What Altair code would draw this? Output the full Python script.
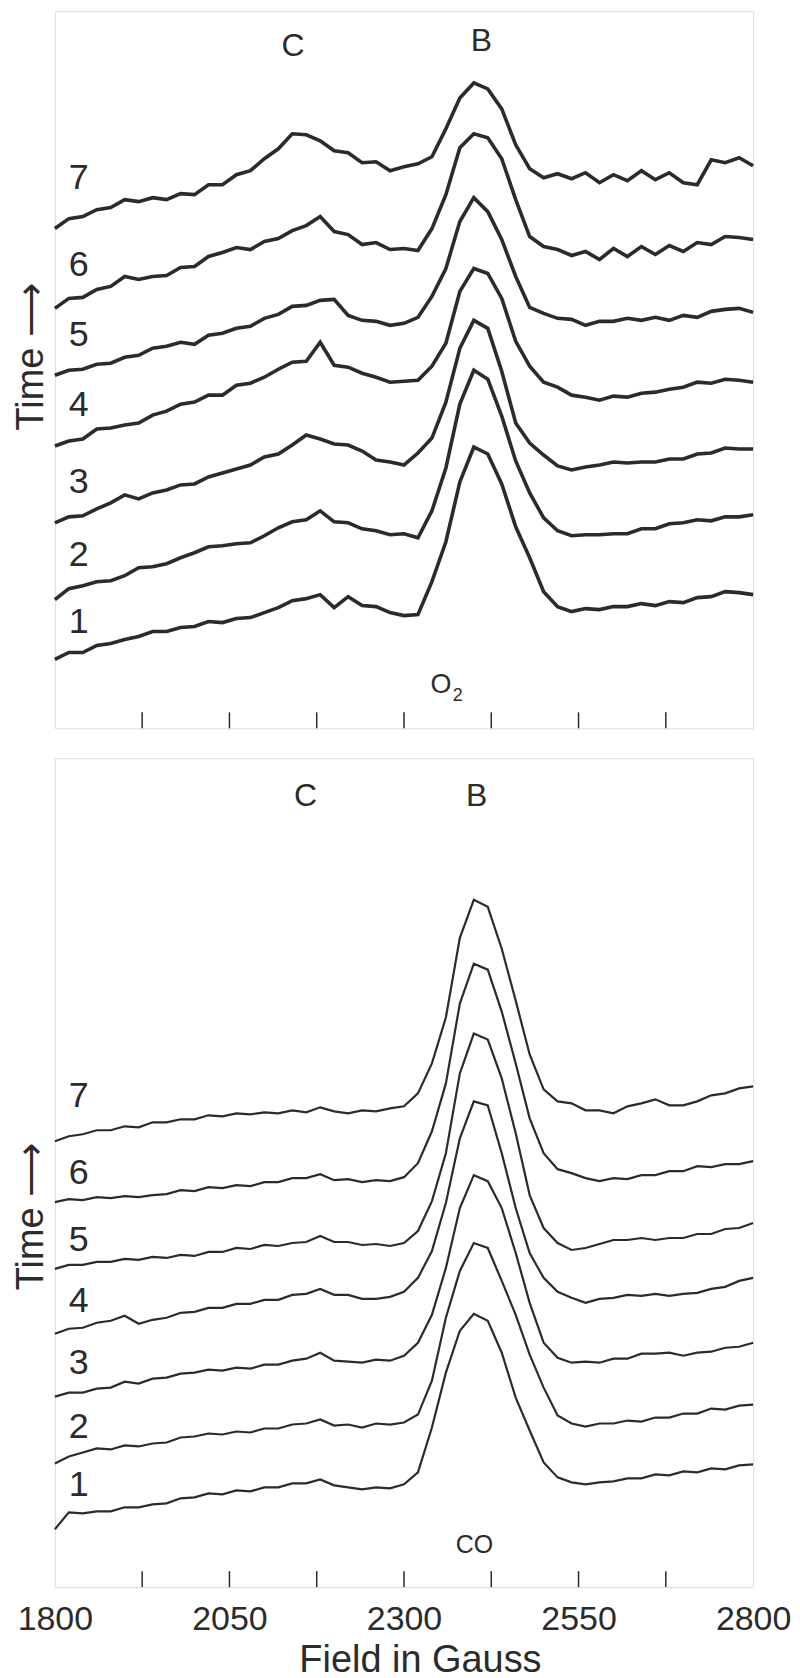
import altair as alt
import pandas as pd

# ---------------- data ----------------
field_gauss = [1800, 1820, 1840, 1860, 1880, 1900, 1920, 1940, 1960, 1980,
               2000, 2020, 2040, 2060, 2080, 2100, 2120, 2140, 2160, 2180,
               2200, 2220, 2240, 2260, 2280, 2300, 2320, 2340, 2360, 2380,
               2400, 2420, 2440, 2460, 2480, 2500, 2520, 2540, 2560, 2580,
               2600, 2620, 2640, 2660, 2680, 2700, 2720, 2740, 2760, 2780, 2800]

# O2 panel (arbitrary signal units, offset per time step)
o2_trace1 = [69, 76, 76, 83, 85, 89, 92, 97, 97, 101, 102, 107, 106, 110, 111, 116, 121, 128, 130, 134,
             121, 132, 123, 122, 116, 113, 114, 147, 187, 247, 282, 275, 245, 202, 171, 137, 122, 117, 120, 119,
             122, 122, 125, 123, 127, 126, 131, 132, 137, 136, 134]
o2_trace2 = [129, 140, 143, 147, 148, 153, 161, 162, 165, 171, 176, 182, 183, 185, 186, 193, 201, 207, 209, 218,
             207, 206, 200, 198, 194, 195, 191, 218, 261, 325, 359, 350, 313, 268, 236, 211, 198, 193, 194, 194,
             195, 195, 200, 200, 205, 206, 209, 208, 212, 212, 214]
o2_trace3 = [206, 212, 213, 220, 226, 234, 230, 236, 239, 244, 245, 252, 256, 260, 264, 272, 275, 284, 294, 290,
             285, 284, 278, 269, 267, 264, 276, 291, 327, 381, 409, 401, 358, 306, 286, 274, 263, 259, 262, 264,
             267, 266, 267, 267, 270, 270, 275, 276, 281, 280, 280]
o2_trace4 = [283, 288, 290, 300, 301, 304, 306, 314, 318, 325, 327, 334, 334, 344, 346, 352, 360, 367, 368, 387,
             364, 362, 356, 352, 347, 348, 349, 363, 386, 438, 461, 456, 431, 388, 363, 347, 342, 334, 332, 329,
             333, 332, 336, 337, 340, 342, 347, 346, 350, 349, 347]
o2_trace5 = [354, 359, 360, 365, 366, 372, 374, 381, 383, 387, 385, 394, 396, 401, 403, 411, 415, 423, 424, 429,
             430, 414, 409, 408, 404, 406, 412, 433, 461, 508, 532, 518, 490, 453, 422, 416, 411, 410, 404, 408,
             408, 411, 409, 412, 409, 414, 412, 418, 420, 421, 417]
o2_trace6 = [421, 431, 432, 440, 443, 453, 450, 453, 454, 462, 463, 473, 477, 482, 480, 488, 491, 499, 504, 513,
             498, 495, 485, 487, 480, 481, 479, 501, 535, 582, 596, 592, 571, 530, 493, 483, 480, 474, 478, 470,
             481, 473, 483, 475, 484, 478, 487, 485, 493, 492, 490]
o2_trace7 = [501, 511, 513, 520, 522, 530, 528, 532, 530, 536, 535, 545, 545, 555, 559, 571, 581, 596, 595, 589,
             579, 577, 567, 568, 559, 563, 566, 573, 601, 632, 647, 641, 621, 585, 561, 552, 556, 551, 557, 547,
             555, 549, 559, 550, 557, 547, 545, 570, 567, 572, 564]

# CO panel
co_trace1 = [58, 75, 74, 76, 76, 80, 80, 83, 84, 89, 90, 94, 93, 97, 96, 100, 100, 104, 104, 108,
             102, 100, 98, 100, 99, 103, 115, 160, 215, 257, 274, 267, 235, 190, 157, 125, 110, 105, 103, 105,
             106, 109, 109, 113, 112, 116, 115, 119, 118, 122, 123]
co_trace2 = [124, 131, 135, 139, 138, 142, 141, 144, 145, 150, 151, 154, 153, 156, 155, 159, 159, 163, 164, 168,
             162, 163, 160, 164, 163, 165, 173, 207, 270, 317, 345, 340, 307, 273, 233, 200, 172, 164, 161, 164,
             164, 167, 166, 170, 170, 174, 174, 179, 178, 182, 183]
co_trace3 = [191, 195, 195, 199, 200, 206, 204, 209, 210, 214, 215, 218, 217, 220, 219, 223, 223, 227, 229, 235,
             227, 226, 225, 228, 227, 232, 245, 273, 320, 380, 413, 407, 380, 335, 285, 245, 230, 225, 226, 225,
             229, 229, 234, 234, 235, 232, 235, 236, 240, 241, 245]
co_trace4 = [254, 259, 260, 265, 267, 272, 264, 268, 270, 275, 276, 280, 280, 284, 284, 288, 288, 293, 294, 299,
             293, 293, 289, 289, 291, 296, 310, 337, 385, 450, 487, 483, 435, 380, 335, 310, 296, 290, 285, 289,
             290, 293, 292, 294, 292, 294, 295, 299, 301, 307, 310]
co_trace5 = [319, 323, 323, 326, 326, 329, 328, 331, 330, 333, 332, 336, 336, 340, 339, 343, 342, 345, 346, 352,
             346, 346, 343, 344, 342, 345, 357, 387, 435, 515, 555, 549, 510, 455, 393, 360, 345, 338, 340, 344,
             348, 348, 350, 348, 350, 350, 354, 354, 359, 360, 365]
co_trace6 = [386, 389, 388, 391, 390, 392, 391, 393, 394, 398, 397, 401, 400, 403, 402, 406, 406, 410, 410, 414,
             408, 409, 406, 408, 407, 411, 425, 457, 505, 585, 625, 619, 577, 525, 470, 435, 419, 415, 410, 407,
             410, 409, 413, 413, 417, 417, 422, 421, 424, 424, 427]
co_trace7 = [447, 452, 454, 458, 458, 462, 461, 466, 466, 469, 469, 473, 472, 475, 474, 476, 475, 478, 476, 481,
             477, 475, 478, 477, 480, 482, 495, 525, 571, 651, 689, 682, 640, 588, 534, 499, 487, 485, 478, 478,
             475, 482, 485, 489, 483, 483, 487, 493, 495, 500, 502]

trace_names = ["1", "2", "3", "4", "5", "6", "7"]

# curve number labels (field, signal)
o2_label_field = [1834] * 7
o2_label_signal = [107, 174, 247, 324, 394, 464, 552]
co_label_field = [1834] * 7
co_label_signal = [102, 160, 225, 287, 348, 415, 492]

# peak annotations
o2_peak_text = ["C", "B"]
o2_peak_field = [2141, 2411]
o2_peak_signal = [684, 689]
co_peak_text = ["C", "B"]
co_peak_field = [2159, 2404]
co_peak_signal = [793, 793]

tick_marks = [1925, 2050, 2175, 2300, 2425, 2550, 2675]
tick_labels = [1800, 2050, 2300, 2550, 2800]

FONT = "Liberation Sans"
INK = "#2b2b2b"


def traces_df(traces):
    rows = []
    for name, vals in zip(trace_names, traces):
        for g, v in zip(field_gauss, vals):
            rows.append({"field": g, "signal": v, "trace": name})
    return pd.DataFrame(rows)


def panel(traces, lab_f, lab_s, pk_t, pk_f, pk_s, gas_parts, height, ymax,
          stroke, show_x, title_y):
    xscale = alt.Scale(domain=[1800, 2800], nice=False, zero=False)
    yscale = alt.Scale(domain=[0, ymax], nice=False, zero=False)
    if show_x:
        xaxis = alt.Axis(values=tick_labels, ticks=False, domain=False, grid=False,
                         labelFontSize=34, labelFont=FONT, labelColor=INK,
                         labelPadding=16, labelFlush=False, labelOverlap=False,
                         labelBound=False, format="d",
                         title="Field in Gauss", titleFontSize=38, titleFont=FONT,
                         titleFontWeight="normal", titleColor=INK, titlePadding=5,
                         titleX=366)
    else:
        xaxis = None
    yaxis = alt.Axis(title="Time \u27F6", labels=False, ticks=False, domain=False,
                     grid=False, titleFontSize=38, titleFont=FONT,
                     titleFontWeight="normal", titleColor=INK, titlePadding=4,
                     titleY=title_y)

    lines = alt.Chart(traces_df(traces)).mark_line(
        color=INK, strokeWidth=stroke, strokeJoin="miter"
    ).encode(
        x=alt.X("field:Q", scale=xscale, axis=xaxis),
        y=alt.Y("signal:Q", scale=yscale, axis=yaxis),
        detail="trace:N",
    )

    ticks = alt.Chart(pd.DataFrame({"field": tick_marks})).mark_rule(
        color=INK, strokeWidth=1.5
    ).encode(
        x=alt.X("field:Q", scale=xscale),
        y=alt.datum(0),
        y2=alt.datum(16),
    )

    nums = alt.Chart(pd.DataFrame({"field": lab_f, "signal": lab_s, "txt": trace_names})).mark_text(
        fontSize=36, font=FONT, color=INK, align="center", baseline="middle"
    ).encode(x=alt.X("field:Q", scale=xscale), y=alt.Y("signal:Q", scale=yscale), text="txt:N")

    peaks = alt.Chart(pd.DataFrame({"field": pk_f, "signal": pk_s, "txt": pk_t})).mark_text(
        fontSize=32, font=FONT, color=INK, align="center", baseline="middle"
    ).encode(x=alt.X("field:Q", scale=xscale), y=alt.Y("signal:Q", scale=yscale), text="txt:N")

    layers = [lines, ticks, nums, peaks]
    for (txt, f, s, size) in gas_parts:
        layers.append(
            alt.Chart(pd.DataFrame({"field": [f], "signal": [s], "txt": [txt]})).mark_text(
                fontSize=size, font=FONT, color=INK, align="center", baseline="middle"
            ).encode(x=alt.X("field:Q", scale=xscale), y=alt.Y("signal:Q", scale=yscale), text="txt:N")
        )
    return alt.layer(*layers).properties(width=700, height=height)


top = panel([o2_trace1, o2_trace2, o2_trace3, o2_trace4, o2_trace5, o2_trace6, o2_trace7],
            o2_label_field, o2_label_signal, o2_peak_text, o2_peak_field, o2_peak_signal,
            [("O", 2353, 43, 27), ("2", 2377, 32, 18)],
            719, 719, 3.6, False, 346)

bottom = panel([co_trace1, co_trace2, co_trace3, co_trace4, co_trace5, co_trace6, co_trace7],
               co_label_field, co_label_signal, co_peak_text, co_peak_field, co_peak_signal,
               [("CO", 2401, 42, 25)],
               831, 831, 2.2, True, 459)

chart = alt.vconcat(top, bottom, spacing=27).properties(
    padding={"left": 4, "top": 0, "right": 0, "bottom": 0}
).configure_view(
    stroke=INK, strokeWidth=1.5
).configure(background="white")

chart.save("out.html", embed_options={"renderer": "svg", "actions": False})
